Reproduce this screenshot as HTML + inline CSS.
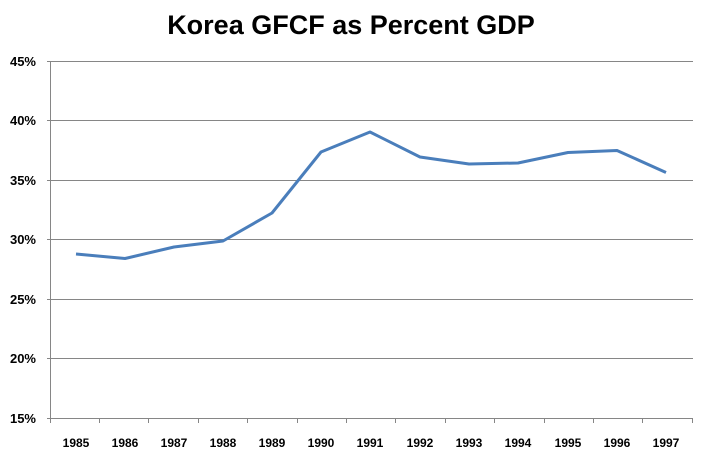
<!DOCTYPE html>
<html><head><style>body{margin:0;background:#fff}</style></head><body>
<svg width="702" height="460" xmlns="http://www.w3.org/2000/svg" font-family="'Liberation Sans',sans-serif">
<text x="351" y="34" font-size="27" text-anchor="middle" font-weight="bold" fill="#000">Korea GFCF as Percent GDP</text>
<g stroke="#868686" stroke-width="1">
<line x1="47" y1="61.5" x2="693" y2="61.5"/>
<line x1="47" y1="120.5" x2="693" y2="120.5"/>
<line x1="47" y1="180.5" x2="693" y2="180.5"/>
<line x1="47" y1="239.5" x2="693" y2="239.5"/>
<line x1="47" y1="299.5" x2="693" y2="299.5"/>
<line x1="47" y1="358.5" x2="693" y2="358.5"/>
<line x1="47" y1="418.5" x2="693" y2="418.5"/>
<line x1="50.5" y1="61" x2="50.5" y2="418"/>
<g id="t"></g>
</g>
<g stroke="#868686">
<line x1="50.5" y1="418" x2="50.5" y2="423"/><line x1="99.5" y1="418" x2="99.5" y2="423"/><line x1="148.5" y1="418" x2="148.5" y2="423"/><line x1="198.5" y1="418" x2="198.5" y2="423"/><line x1="247.5" y1="418" x2="247.5" y2="423"/><line x1="297.5" y1="418" x2="297.5" y2="423"/><line x1="346.5" y1="418" x2="346.5" y2="423"/><line x1="395.5" y1="418" x2="395.5" y2="423"/><line x1="445.5" y1="418" x2="445.5" y2="423"/><line x1="494.5" y1="418" x2="494.5" y2="423"/><line x1="544.5" y1="418" x2="544.5" y2="423"/><line x1="593.5" y1="418" x2="593.5" y2="423"/><line x1="642.5" y1="418" x2="642.5" y2="423"/><line x1="692.5" y1="418" x2="692.5" y2="423"/>
</g>
<g font-size="13" font-weight="bold" text-anchor="end" fill="#000">
<text x="36" y="66">45%</text><text x="36" y="125">40%</text><text x="36" y="185">35%</text><text x="36" y="244">30%</text><text x="36" y="304">25%</text><text x="36" y="363">20%</text><text x="36" y="423">15%</text>
</g>
<g font-size="12" font-weight="bold" text-anchor="middle" fill="#000">
<text x="76" y="447">1985</text><text x="125" y="447">1986</text><text x="174" y="447">1987</text><text x="223" y="447">1988</text><text x="272" y="447">1989</text><text x="321" y="447">1990</text><text x="370" y="447">1991</text><text x="420" y="447">1992</text><text x="469" y="447">1993</text><text x="518" y="447">1994</text><text x="568" y="447">1995</text><text x="617" y="447">1996</text><text x="666" y="447">1997</text>
</g>
<polyline fill="none" stroke="#4a7ebb" stroke-width="3" stroke-linejoin="round" points="76,254 125,258.5 174,247 223,241 272,213 321,152 370,132 420,157 469,164 518,163 568,152.5 617,150.5 666,172.5"/>
</svg>
</body></html>
